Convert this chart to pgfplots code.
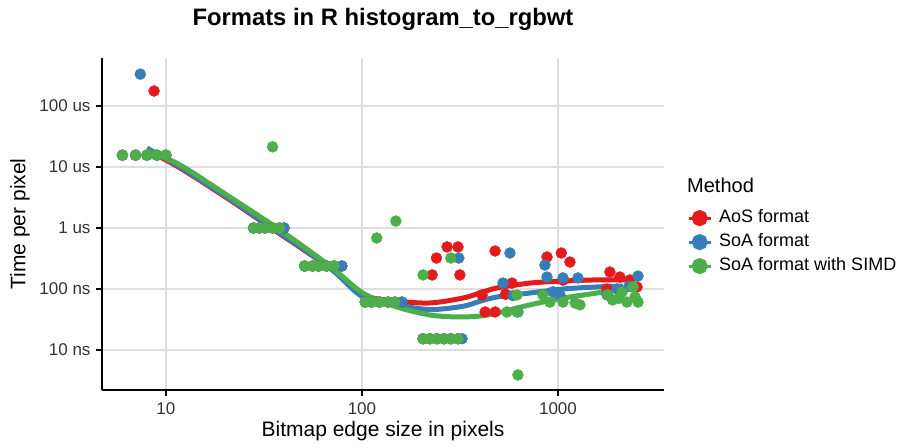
\documentclass[border=0pt]{standalone}
\usepackage{pgfplots}
\pgfplotsset{compat=1.18}
\usepackage{fontspec}
\setmainfont{Liberation Sans}

\definecolor{cred}{HTML}{E41A1C}
\definecolor{cblue}{HTML}{377EB8}
\definecolor{cgreen}{HTML}{4DAF4A}
\definecolor{cgrid}{HTML}{DEDEDE}
\definecolor{ctick}{HTML}{333333}

\begin{document}
\begin{tikzpicture}[x=1pt,y=1pt]
\useasboundingbox (-102,-57) rectangle (799,390);
\begin{axis}[
    at={(0pt,0pt)}, anchor=south west,
    scale only axis,
    width=562pt, height=332pt,
    xmode=log, ymode=log,
    xmin=4.72, xmax=3475,
    ymin=2.21, ymax=612000,
    axis x line*=bottom, axis y line*=left,
    axis line style={line width=2.2pt, black, -},
    xtick={10,100,1000}, xticklabels={10,100,1000},
    ytick={10,100,1000,10000,100000},
    yticklabels={10 ns,100 ns,1 us,10 us,100 us},
    minor tick style={draw=none},
    tick align=outside, major tick length=6pt,
    tick style={line width=1.8pt, black},
    grid=major,
    major grid style={line width=1.8pt, cgrid},
    ticklabel style={font=\fontsize{17}{17}\selectfont, text=ctick},
    xticklabel style={yshift=-3pt},
    yticklabel style={xshift=-2pt},
    legend style={at={(1.0356,0.55)}, anchor=north west, draw=none, fill=none,
        font=\fontsize{18}{18}\selectfont, row sep=7pt,
        nodes={inner sep=0pt, text height=13pt, text depth=4pt}},
    legend cell align=left,
    legend image code/.code={
        \draw[#1, line width=3pt] (0pt,0pt) -- (22pt,0pt);
        \fill[#1] (11pt,0pt) circle (5.5pt);
        \path (28pt,0pt);},
]

% points: AoS
\addplot[only marks, mark=*, mark size=5.5pt, color=cred, forget plot] coordinates {
(6,15625) (7,15625) (8,15625) (9,15625) (10,15625)
(8.7,176000)
(28,1000) (30,1000) (32,1000) (35,1000) (38,1000) (40,1000)
(51,238) (56,238) (60,238) (66,238) (72,238) (79,238)
(104,61) (112,61) (123,61) (136,61) (147,61) (160,61)
(205,15.3) (222,15.3) (241,15.3) (262,15.3) (284,15.3) (309,15.3)
(240,322) (272,489) (309,489) (228,170) (316,170) (478,420)
(425,42) (478,42) (583,125) (410,80) (540,82)
(879,335) (1040,389) (1151,277) (1061,140) (1778,100)
(1841,190) (2070,157) (2330,141) (2531,108)
};

% points: SoA
\addplot[only marks, mark=*, mark size=5.5pt, color=cblue, forget plot] coordinates {
(6,15625) (7,15625) (8,15625) (9,15625) (10,15625)
(7.4,333000)
(28,1000) (30,1000) (32,1000) (35,1000) (38,1000) (40,1000)
(51,238) (56,238) (60,238) (66,238) (72,238) (79,238)
(104,61) (112,61) (123,61) (136,61) (147,61) (160,61)
(205,15.3) (222,15.3) (241,15.3) (262,15.3) (284,15.3) (309,15.3) (324,15.3)
(312,322) (569,389) (524,125) (625,42) (590,78)
(858,247) (879,157) (1061,152) (1264,152) (943,90) (1024,80)
(2560,163) (1778,80) (2300,110) (2000,100)
};

% points: SoA with SIMD
\addplot[only marks, mark=*, mark size=5.5pt, color=cgreen, forget plot] coordinates {
(6,15625) (7,15625) (8,15625) (9,15625) (10,15625)
(35,21400)
(28,1000) (30,1000) (32,1000) (35,1000) (38,1000)
(51,238) (56,238) (60,238) (66,238) (72,238)
(104,61) (112,61) (123,61) (136,61) (147,61)
(205,15.3) (222,15.3) (241,15.3) (262,15.3) (284,15.3) (309,15.3)
(119,686) (149,1300) (284,322) (205,170)
(549,42) (618,42) (625,3.9) (618,80)
(838,80) (910,61) (1061,61) (1222,59) (1295,55)
(1800,80) (2250,61) (2560,61) (2415,108) (2121,89) (2473,74) (1900,66) (2050,70)
};

% smoothed trends
\addplot[color=cred, line width=5pt, smooth, mark=none] coordinates {
(8,19000) (11.8,9640) (21.2,2880) (38.2,798) (68.7,221) (101,80)
(151,63.5) (222,59) (327,71) (400,86) (489,104) (720,125)
(1061,135) (1582,141) (2330,141)
};
\addlegendentry{AoS format}

\addplot[color=cblue, line width=5pt, smooth, mark=none] coordinates {
(8,20400) (11.8,10000) (21.2,2990) (38.2,828) (68.7,221) (101,74)
(151,55) (222,46) (327,52) (400,63) (489,74) (720,86)
(1061,100) (1582,108) (2148,112)
};
\addlegendentry{SoA format}

\addplot[color=cgreen, line width=5pt, smooth, mark=none] coordinates {
(8,18500) (11.8,10800) (21.2,3220) (38.2,927) (68.7,238) (101,86)
(151,50.7) (222,37.5) (306,34.8) (400,36) (489,40.5) (720,55)
(1061,71) (1582,86) (2415,108)
};
\addlegendentry{SoA format with SIMD}

\end{axis}

\node[font=\bfseries\fontsize{23.8}{23.8}\selectfont] at (281,371) {Formats in R histogram\_to\_rgbwt};
\node[font=\fontsize{21}{21}\selectfont] at (281,-41) {Bitmap edge size in pixels};
\node[font=\fontsize{21}{21}\selectfont, rotate=90] at (-82,166) {Time per pixel};
\node[font=\fontsize{20}{20}\selectfont, anchor=west, inner sep=0pt] at (585,205) {Method};
\end{tikzpicture}
\end{document}
